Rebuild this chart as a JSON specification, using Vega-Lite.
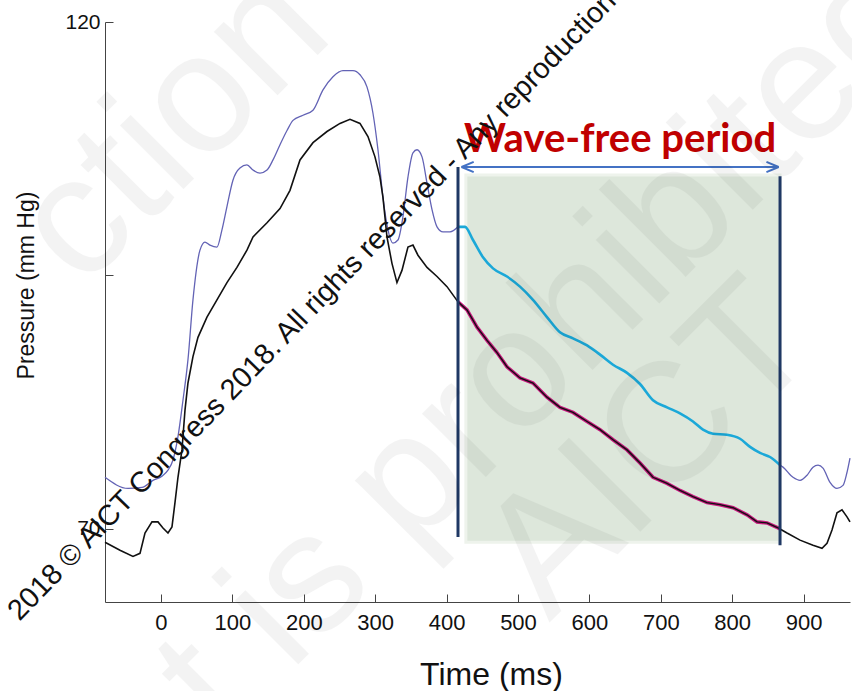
{
  "$schema": "https://vega.github.io/schema/vega-lite/v6.json",
  "width": 745,
  "height": 580,
  "autosize": {"type": "none"},
  "padding": {"left": 105, "top": 22, "right": 2, "bottom": 89},
  "background": "white",
  "config": {"view": {"stroke": null}},
  "datasets": {
    "box": [{"t": 427, "t2": 867, "p": 68.7, "p2": 104.9}],
    "pa": [
      {"t": -78.4, "p": 75.1}, {"t": -46.2, "p": 74.0}, {"t": -26.6, "p": 74.1}, {"t": -11.2, "p": 74.8}, {"t": 1.4, "p": 75.2}, {"t": 9.8, "p": 75.8}, {"t": 16.8, "p": 76.8}, {"t": 23.8, "p": 79.1}, {"t": 30.8, "p": 82.7}, {"t": 37.8, "p": 86.7}, {"t": 44.8, "p": 92.6}, {"t": 54.6, "p": 97.5}, {"t": 61.6, "p": 98.3}, {"t": 68.6, "p": 98.0}, {"t": 78.4, "p": 97.8}, {"t": 85.4, "p": 99.5}, {"t": 92.4, "p": 101.8}, {"t": 100.8, "p": 104.4}, {"t": 110.6, "p": 105.6}, {"t": 120.4, "p": 105.9}, {"t": 128.9, "p": 105.4}, {"t": 138.7, "p": 105.1}, {"t": 148.5, "p": 105.4}, {"t": 156.9, "p": 106.4}, {"t": 166.7, "p": 107.9}, {"t": 176.5, "p": 109.3}, {"t": 184.9, "p": 110.3}, {"t": 198.9, "p": 110.8}, {"t": 212.9, "p": 111.3}, {"t": 226.9, "p": 113.3}, {"t": 240.9, "p": 114.6}, {"t": 254.9, "p": 115.2}, {"t": 268.9, "p": 115.2}, {"t": 278.7, "p": 114.8}, {"t": 288.5, "p": 113.6}, {"t": 296.9, "p": 111.0}, {"t": 303.9, "p": 107.4}, {"t": 310.9, "p": 102.7}, {"t": 317.9, "p": 99.5}, {"t": 324.9, "p": 98.2}, {"t": 331.9, "p": 98.5}, {"t": 338.9, "p": 100.8}, {"t": 345.9, "p": 104.7}, {"t": 352.9, "p": 107.1}, {"t": 358.6, "p": 107.4}, {"t": 365.6, "p": 106.7}, {"t": 372.6, "p": 104.1}, {"t": 379.6, "p": 101.5}, {"t": 386.6, "p": 99.8}, {"t": 395, "p": 99.3}, {"t": 404.8, "p": 99.3}, {"t": 416, "p": 99.8}
    ],
    "paAfter": [
      {"t": 867, "p": 76.3}, {"t": 871.2, "p": 76.1}, {"t": 885.2, "p": 75.1}, {"t": 895, "p": 74.8}, {"t": 904.8, "p": 75.3}, {"t": 913.2, "p": 76.1}, {"t": 920.2, "p": 76.3}, {"t": 927.2, "p": 76.0}, {"t": 937, "p": 74.6}, {"t": 946.8, "p": 74.0}, {"t": 955.2, "p": 74.3}, {"t": 960.5, "p": 75.5}, {"t": 965, "p": 77.0}
    ],
    "paWfp": [
      {"t": 416, "p": 99.8}, {"t": 425.8, "p": 99.8}, {"t": 437, "p": 98.5}, {"t": 451, "p": 96.8}, {"t": 465, "p": 95.7}, {"t": 484.6, "p": 94.9}, {"t": 502.8, "p": 93.9}, {"t": 521, "p": 92.6}, {"t": 540.6, "p": 90.9}, {"t": 558.8, "p": 89.4}, {"t": 577, "p": 88.8}, {"t": 596.7, "p": 88.1}, {"t": 614.9, "p": 87.2}, {"t": 633.1, "p": 86.2}, {"t": 652.7, "p": 85.4}, {"t": 670.9, "p": 84.3}, {"t": 689.1, "p": 82.7}, {"t": 708.7, "p": 82.0}, {"t": 726.9, "p": 81.4}, {"t": 745.1, "p": 80.6}, {"t": 759.1, "p": 79.8}, {"t": 773.1, "p": 79.4}, {"t": 792.7, "p": 79.3}, {"t": 811, "p": 78.9}, {"t": 825, "p": 78.1}, {"t": 839, "p": 77.5}, {"t": 853, "p": 77.1}, {"t": 867, "p": 76.3}
    ],
    "pd": [
      {"t": -78.4, "p": 68.7}, {"t": -57.4, "p": 67.9}, {"t": -39.2, "p": 67.3}, {"t": -29.4, "p": 67.6}, {"t": -22.4, "p": 69.6}, {"t": -12.6, "p": 70.7}, {"t": -4.2, "p": 70.7}, {"t": 2.8, "p": 70.1}, {"t": 9.8, "p": 69.6}, {"t": 15.4, "p": 70.2}, {"t": 19.6, "p": 72.6}, {"t": 23.8, "p": 75.1}, {"t": 29.4, "p": 77.8}, {"t": 33.6, "p": 81.7}, {"t": 37.8, "p": 84.4}, {"t": 44.8, "p": 87.0}, {"t": 51.8, "p": 88.9}, {"t": 64.4, "p": 90.9}, {"t": 78.4, "p": 92.6}, {"t": 92.4, "p": 94.3}, {"t": 106.4, "p": 95.8}, {"t": 120.4, "p": 97.5}, {"t": 128.9, "p": 98.8}, {"t": 148.5, "p": 100.2}, {"t": 166.7, "p": 101.6}, {"t": 180.7, "p": 103.4}, {"t": 194.7, "p": 106.4}, {"t": 212.9, "p": 108.1}, {"t": 232.5, "p": 109.2}, {"t": 250.7, "p": 110.0}, {"t": 264.7, "p": 110.4}, {"t": 278.7, "p": 110.0}, {"t": 289.9, "p": 108.7}, {"t": 299.7, "p": 106.7}, {"t": 306.7, "p": 104.7}, {"t": 310.9, "p": 102.7}, {"t": 316.5, "p": 98.8}, {"t": 323.5, "p": 96.2}, {"t": 330.5, "p": 94.3}, {"t": 337.5, "p": 95.5}, {"t": 345.9, "p": 97.8}, {"t": 352.9, "p": 98.0}, {"t": 359.9, "p": 97.0}, {"t": 372.6, "p": 95.8}, {"t": 386.6, "p": 94.9}, {"t": 400.6, "p": 93.9}, {"t": 416, "p": 92.4}
    ],
    "pdWfp": [
      {"t": 416, "p": 92.4}, {"t": 428.6, "p": 91.6}, {"t": 442.6, "p": 89.9}, {"t": 456.6, "p": 88.6}, {"t": 470.6, "p": 87.4}, {"t": 484.6, "p": 86.0}, {"t": 502.8, "p": 84.9}, {"t": 521, "p": 84.4}, {"t": 540.6, "p": 83.0}, {"t": 558.8, "p": 82.0}, {"t": 577, "p": 81.5}, {"t": 596.7, "p": 80.6}, {"t": 614.9, "p": 79.8}, {"t": 633.1, "p": 78.8}, {"t": 652.7, "p": 77.8}, {"t": 670.9, "p": 76.5}, {"t": 689.1, "p": 75.1}, {"t": 708.7, "p": 74.5}, {"t": 726.9, "p": 73.8}, {"t": 745.1, "p": 73.2}, {"t": 764.7, "p": 72.6}, {"t": 782.9, "p": 72.4}, {"t": 801.2, "p": 72.1}, {"t": 820.8, "p": 71.4}, {"t": 834.8, "p": 70.7}, {"t": 848.8, "p": 70.6}, {"t": 864.2, "p": 70.1}, {"t": 867, "p": 70.0}
    ],
    "pdAfter": [
      {"t": 867, "p": 70.0}, {"t": 876.8, "p": 69.6}, {"t": 895, "p": 68.9}, {"t": 913.2, "p": 68.4}, {"t": 925.8, "p": 68.1}, {"t": 932.8, "p": 68.6}, {"t": 939.8, "p": 69.9}, {"t": 946.8, "p": 71.6}, {"t": 953.8, "p": 71.9}, {"t": 960.8, "p": 71.2}, {"t": 965, "p": 70.7}
    ],
    "bounds": [
      {"t": 416, "p": 69.2, "p2": 105.7},
      {"t": 867, "p": 68.4, "p2": 104.8}
    ],
    "arrow": [
      {"t": 421, "t2": 865, "p": 105.7, "p2": 105.7},
      {"t": 421, "t2": 438, "p": 105.7, "p2": 106.2},
      {"t": 421, "t2": 438, "p": 105.7, "p2": 105.2},
      {"t": 865, "t2": 848, "p": 105.7, "p2": 106.2},
      {"t": 865, "t2": 848, "p": 105.7, "p2": 105.2}
    ],
    "label": [{"t": 643, "p": 107.2, "txt": "Wave-free period"}],
    "wm": [
      {"t": 16.8, "p": 109.6, "txt": "ction"},
      {"t": 537.8, "p": 88.1, "txt": "t is prohibited"},
      {"t": 684.9, "p": 77.8, "txt": "AICT"}
    ],
    "copy": [{"t": 211.5, "p": 92.0, "txt": "2018 © AICT Congress 2018. All rights reserved - Any reproduction"}]
  },
  "encoding": {
    "x": {
      "field": "t", "type": "quantitative",
      "scale": {"domain": [-78.4, 965], "nice": false, "zero": false},
      "axis": {
        "title": "Time (ms)", "values": [0, 100, 200, 300, 400, 500, 600, 700, 800, 900],
        "grid": false, "tickSize": -8, "labelPadding": 18, "labelFlush": false, "labelOverlap": false,
        "domainColor": "#444", "tickColor": "#444", "domainWidth": 1, "tickWidth": 1,
        "labelFont": "Liberation Sans", "labelFontSize": 22, "labelColor": "#111",
        "titleFont": "Liberation Sans", "titleFontSize": 32, "titleFontWeight": "normal", "titleColor": "#111",
        "titleX": 386, "titleY": 82, "titleAlign": "center", "titleBaseline": "alphabetic"
      }
    },
    "y": {
      "field": "p", "type": "quantitative",
      "scale": {"domain": [62.8, 120], "nice": false, "zero": false},
      "axis": {
        "title": "Pressure (mm Hg)", "values": [70, 95, 120],
        "labelExpr": "datum.value == 95 ? '' : datum.label",
        "grid": false, "tickSize": -8, "labelPadding": 13, "labelFlush": false, "labelOverlap": false,
        "domainColor": "#444", "tickColor": "#444", "domainWidth": 1, "tickWidth": 1,
        "labelFont": "Liberation Sans", "labelFontSize": 21, "labelColor": "#111",
        "titleFont": "Liberation Sans", "titleFontSize": 23, "titleFontWeight": "normal", "titleColor": "#111",
        "titleX": -79, "titleY": 263, "titleAngle": 270, "titleAlign": "center", "titleBaseline": "middle"
      }
    }
  },
  "layer": [
    {"data": {"name": "box"}, "mark": {"type": "rect", "fill": "#dde7db", "stroke": "#eef3ec", "strokeWidth": 3},
     "encoding": {"x2": {"field": "t2"}, "y2": {"field": "p2"}}},
    {"data": {"name": "pa"}, "mark": {"type": "line", "color": "#6363b5", "strokeWidth": 1.3, "interpolate": "monotone"}},
    {"data": {"name": "paAfter"}, "mark": {"type": "line", "color": "#6363b5", "strokeWidth": 1.3, "interpolate": "monotone"}},
    {"data": {"name": "paWfp"}, "mark": {"type": "line", "color": "#1ba8d8", "strokeWidth": 2.6, "interpolate": "monotone"}},
    {"data": {"name": "pd"}, "mark": {"type": "line", "color": "#111111", "strokeWidth": 1.6}},
    {"data": {"name": "pdAfter"}, "mark": {"type": "line", "color": "#111111", "strokeWidth": 1.6}},
    {"data": {"name": "pdWfp"}, "mark": {"type": "line", "color": "#c8177e", "strokeWidth": 3.6}},
    {"data": {"name": "pdWfp"}, "mark": {"type": "line", "color": "#111111", "strokeWidth": 1.4}},
    {"data": {"name": "bounds"}, "mark": {"type": "rule", "color": "#1f3864", "strokeWidth": 3},
     "encoding": {"y2": {"field": "p2"}}},
    {"data": {"name": "arrow"}, "mark": {"type": "rule", "color": "#4472c4", "strokeWidth": 2},
     "encoding": {"x2": {"field": "t2"}, "y2": {"field": "p2"}}},
    {"data": {"name": "label"}, "mark": {"type": "text", "font": "Lato", "fontWeight": "bold", "fontSize": 40, "color": "#c00000", "align": "center", "baseline": "alphabetic"},
     "encoding": {"text": {"field": "txt"}}},
    {"data": {"name": "wm"}, "mark": {"type": "text", "font": "Liberation Sans", "fontSize": 170, "color": "#000000", "opacity": 0.045, "align": "center", "baseline": "middle", "angle": 315},
     "encoding": {"text": {"field": "txt"}}},
    {"data": {"name": "copy"}, "mark": {"type": "text", "font": "Liberation Sans", "fontSize": 29, "color": "#111111", "align": "center", "baseline": "middle", "angle": 314},
     "encoding": {"text": {"field": "txt"}}}
  ]
}
